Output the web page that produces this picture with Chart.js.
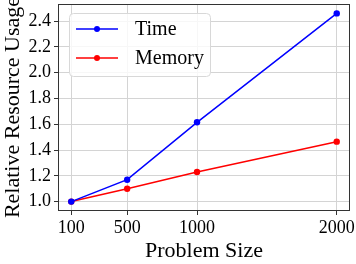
<!DOCTYPE html>
<html>
<head>
<meta charset="utf-8">
<script src="https://cdn.jsdelivr.net/npm/chart.js@4"></script>
<style>
  html, body { margin: 0; padding: 0; background: #fff; }
  #wrap { width: 356px; height: 264px; }
</style>
</head>
<body>
<div id="wrap"><canvas id="chart"></canvas></div>
<script>
const problemSizes = [100, 500, 1000, 2000];
const timeUsage = [1.0, 1.17, 1.615, 2.46];
const memoryUsage = [1.0, 1.10, 1.23, 1.465];
const xTicks = [100, 500, 1000, 2000];
const yTicks = [1.0, 1.2, 1.4, 1.6, 1.8, 2.0, 2.2, 2.4];

const serif = "'Liberation Serif', 'DejaVu Serif', serif";

/* ── frame on all four sides ── */
const frame = {
  id: "frame",
  afterDatasetsDraw(chart) {
    const { ctx, chartArea: a } = chart;
    ctx.save();
    ctx.strokeStyle = "#333";
    ctx.lineWidth = 1;
    ctx.strokeRect(a.left + 0.5, a.top + 0.5, a.right - a.left - 1, a.bottom - a.top - 1);
    ctx.restore();
  }
};

/* ── legend box inside the plot ── */
const boxLegend = {
  id: "boxLegend",
  afterDraw(chart) {
    const { ctx, chartArea: a } = chart;
    const x = a.left + 11, y = a.top + 9, w = 141, h = 63, r = 4;
    ctx.save();
    ctx.beginPath();
    ctx.roundRect(x + 0.5, y + 0.5, w, h, r);
    ctx.fillStyle = "rgba(255,255,255,0.8)";
    ctx.fill();
    ctx.strokeStyle = "#d8d8d8";
    ctx.lineWidth = 1;
    ctx.stroke();
    ctx.font = "20px " + serif;
    ctx.textBaseline = "middle";
    chart.data.datasets.forEach((ds, i) => {
      const cy = y + 16 + i * 29;
      ctx.strokeStyle = ds.borderColor;
      ctx.lineWidth = 1.5;
      ctx.beginPath();
      ctx.moveTo(x + 7, cy);
      ctx.lineTo(x + 49, cy);
      ctx.stroke();
      ctx.fillStyle = ds.borderColor;
      ctx.beginPath();
      ctx.arc(x + 28, cy, 3, 0, Math.PI * 2);
      ctx.fill();
      ctx.fillStyle = "#000";
      ctx.fillText(ds.label, x + 66, cy + 1);
    });
    ctx.restore();
  }
};

new Chart(document.getElementById("chart"), {
  type: "line",
  data: {
    datasets: [
      {
        label: "Time",
        data: problemSizes.map((x, i) => ({ x, y: timeUsage[i] })),
        borderColor: "#0000ff",
        backgroundColor: "#0000ff",
        borderWidth: 1.5,
        pointRadius: 3.2,
        pointBorderWidth: 0,
        tension: 0,
      },
      {
        label: "Memory",
        data: problemSizes.map((x, i) => ({ x, y: memoryUsage[i] })),
        borderColor: "#ff0000",
        backgroundColor: "#ff0000",
        borderWidth: 1.5,
        pointRadius: 3.2,
        pointBorderWidth: 0,
        tension: 0,
      },
    ],
  },
  options: {
    responsive: true,
    maintainAspectRatio: false,
    animation: false,
    layout: { padding: { top: 1, right: 6, left: 0, bottom: 0 } },
    plugins: { legend: { display: false }, tooltip: { enabled: false } },
    scales: {
      x: {
        type: "linear",
        min: 5,
        max: 2095,
        afterBuildTicks: (s) => { s.ticks = xTicks.map((v) => ({ value: v })); },
        afterFit: (s) => { s.height = 53; s.paddingLeft = 0; s.paddingRight = 0; },
        grid: { color: "#d4d4d4", tickColor: "#333", tickLength: 4 },
        border: { display: false },
        ticks: { color: "#000", font: { family: serif, size: 18 }, padding: 2, maxRotation: 0, callback: (v) => String(v) },
        title: { display: true, text: "Problem Size", color: "#000", font: { family: serif, size: 22 }, padding: 0 },
      },
      y: {
        min: 0.927,
        max: 2.533,
        afterBuildTicks: (s) => { s.ticks = yTicks.map((v) => ({ value: v })); },
        afterFit: (s) => { s.width = 58; s.paddingTop = 0; s.paddingBottom = 0; },
        grid: { color: "#d4d4d4", tickColor: "#333", tickLength: 4 },
        border: { display: false },
        ticks: { color: "#000", font: { family: serif, size: 18 }, padding: 3, callback: (v) => v.toFixed(1) },
        title: { display: true, text: "Relative Resource Usage", color: "#000", font: { family: serif, size: 22 }, padding: 0 },
      },
    },
  },
  plugins: [frame, boxLegend],
});
</script>
</body>
</html>
